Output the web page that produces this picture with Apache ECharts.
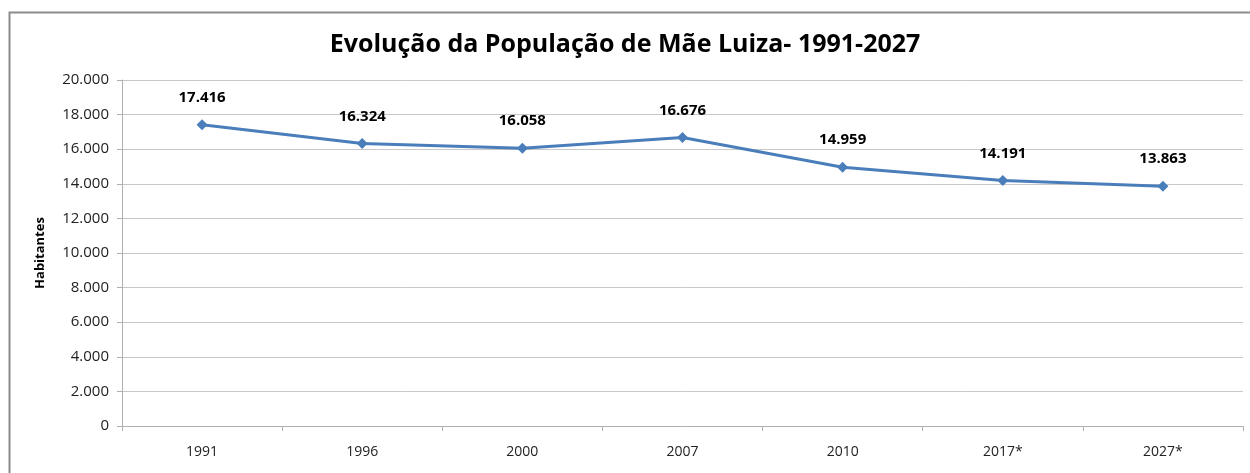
<!DOCTYPE html>
<html>
<head>
<meta charset="utf-8">
<script src="https://cdn.jsdelivr.net/npm/echarts@6/dist/echarts.min.js"></script>
<style>
  html, body { margin: 0; padding: 0; background: #fff; }
  #chart { width: 1250px; height: 473px; }
</style>
</head>
<body>
<div id="chart"></div>
<script>
// ---- Data ----
const years = ["1991", "1996", "2000", "2007", "2010", "2017*", "2027*"];
const population = [17416, 16324, 16058, 16676, 14959, 14191, 13863];
const yTicks = { min: 0, max: 20000, step: 2000 };

// pt-BR style thousands separator
function fmt(v) {
    return String(v).replace(/\B(?=(\d{3})+(?!\d))/g, ".");
}

const FONT = "'Open Sans', 'DejaVu Sans', sans-serif";
const chart = echarts.init(document.getElementById("chart"));

chart.setOption({
    animation: false,
    backgroundColor: "#fff",
    title: {
        text: "Evolução da População de Mãe Luiza- 1991-2027",
        left: "center",
        top: 27,
        textStyle: { fontFamily: FONT, fontSize: 25, fontWeight: "bold", color: "#000" }
    },
    graphic: [{
        type: "rect",
        left: 7, top: 10,
        shape: { width: 1300, height: 520 },
        style: { fill: "none", stroke: "#8c8c8c", lineWidth: 2 },
        silent: true
    }],
    grid: { left: 122, right: 7, top: 80, bottom: 47 },
    xAxis: {
        type: "category",
        data: years,
        boundaryGap: true,
        axisLine: { lineStyle: { color: "#b0b0b0", width: 1 } },
        axisTick: { show: true, length: 5, lineStyle: { color: "#b0b0b0" } },
        axisLabel: { fontFamily: FONT, fontSize: 14, color: "#222", margin: 19 }
    },
    yAxis: {
        type: "value",
        min: yTicks.min,
        max: yTicks.max,
        interval: yTicks.step,
        name: "Habitantes",
        nameLocation: "middle",
        nameGap: 75,
        nameRotate: 90,
        nameTextStyle: { fontFamily: FONT, fontSize: 13, fontWeight: "bold", color: "#000" },
        axisLine: { show: true, lineStyle: { color: "#b0b0b0" } },
        axisTick: { show: true, length: 5, lineStyle: { color: "#b0b0b0" } },
        splitLine: { lineStyle: { color: "#c8c8c8", width: 1 } },
        axisLabel: { fontFamily: FONT, fontSize: 15, color: "#222", margin: 13, formatter: fmt }
    },
    series: [{
        name: "População",
        type: "line",
        data: population,
        symbol: "diamond",
        symbolSize: 11,
        lineStyle: { color: "#4a7ebb", width: 3 },
        itemStyle: { color: "#4a7ebb" },
        label: {
            show: true,
            position: "top",
            distance: 14,
            fontFamily: FONT,
            fontSize: 15,
            fontWeight: "bold",
            color: "#000",
            formatter: p => fmt(p.value)
        }
    }]
});
</script>
</body>
</html>
